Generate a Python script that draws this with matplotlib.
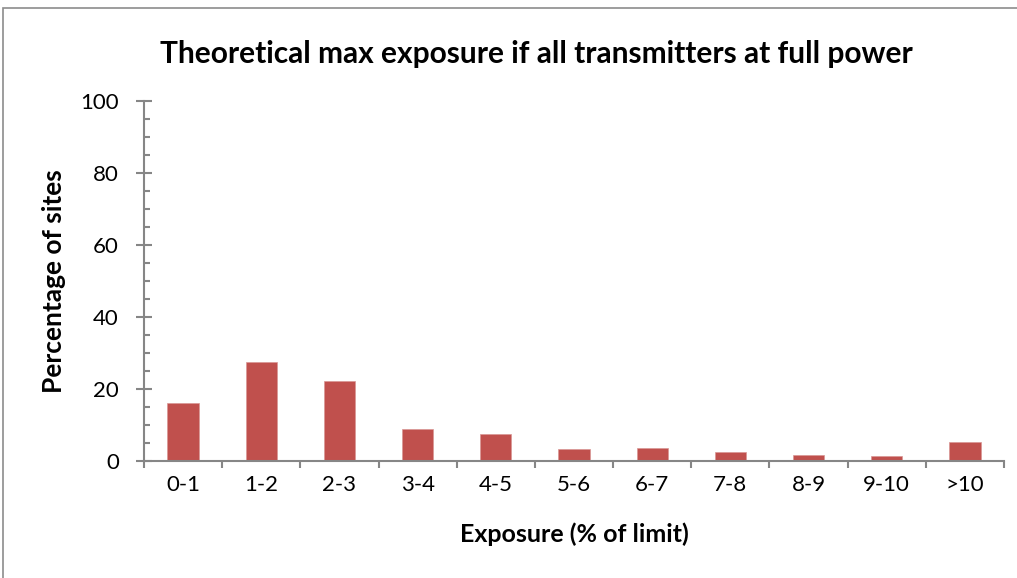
import matplotlib.pyplot as plt
import numpy as np
from matplotlib.patches import Rectangle
from matplotlib.ticker import MultipleLocator, FixedLocator

plt.rcParams['font.family'] = ['Lato', 'DejaVu Sans']

# data
categories = ['0-1', '1-2', '2-3', '3-4', '4-5', '5-6', '6-7', '7-8', '8-9', '9-10', '>10']
percent_sites = [16.0, 27.5, 22.1, 8.9, 7.5, 3.2, 3.5, 2.4, 1.8, 1.3, 5.3]

axis_grey = '#868686'
bar_red = '#C0504D'

fig = plt.figure(figsize=(10.17, 5.78), dpi=100)
ax = fig.add_axes([0.1416, 0.2024, 0.8456, 0.6229])

x = np.arange(len(categories))
ax.bar(x, percent_sites, width=0.4, color=bar_red, edgecolor='#D99795', linewidth=0.5)

ax.set_xlim(-0.5, len(categories) - 0.5)
ax.set_ylim(0, 100)

# y axis ticks: majors cross the axis, minors inside
ax.yaxis.set_major_locator(MultipleLocator(20))
ax.yaxis.set_minor_locator(MultipleLocator(5))
ax.tick_params(axis='y', which='major', direction='inout', length=12, width=1.5,
               color=axis_grey, labelsize=16, pad=12)
ax.tick_params(axis='y', which='minor', direction='in', length=4.5, width=1.5,
               color=axis_grey)

# x axis: ticks between categories, labels centred
ax.set_xticks(x)
ax.set_xticklabels(categories)
ax.tick_params(axis='x', which='major', length=0, labelsize=16, pad=10)
ax.xaxis.set_minor_locator(FixedLocator(np.arange(-0.5, len(categories), 1.0)))
ax.tick_params(axis='x', which='minor', direction='out', length=5, width=1.5,
               color=axis_grey)

for side in ['top', 'right']:
    ax.spines[side].set_visible(False)
for side in ['left', 'bottom']:
    ax.spines[side].set_color(axis_grey)
    ax.spines[side].set_linewidth(1.5)

ax.set_ylabel('Percentage of sites', fontsize=19, fontweight='bold', labelpad=10)
ax.set_xlabel('Exposure (% of limit)', fontsize=18, fontweight='bold', labelpad=20)
fig.text(0.527, 0.907, 'Theoretical max exposure if all transmitters at full power',
         ha='center', va='center', fontsize=21.5, fontweight='bold')

# chart area border
fig.patches.append(Rectangle((0.003, -0.01), 1.01, 0.996, transform=fig.transFigure,
                             fill=False, edgecolor='#8C8C8C', linewidth=1.2))

fig.savefig('out.png', dpi=100)
